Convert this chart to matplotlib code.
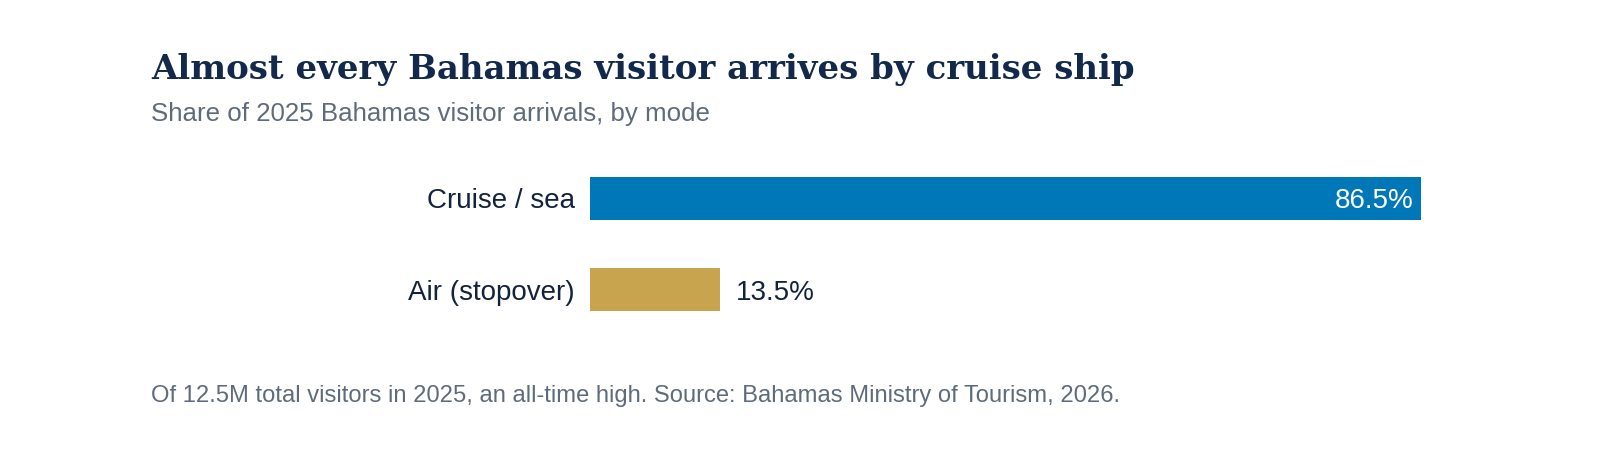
import matplotlib.pyplot as plt

modes = ['Cruise / sea', 'Air (stopover)']
shares = [86.5, 13.5]
bar_colors = ['#0077b6', '#c9a44e']

plt.rcParams['font.family'] = ['Liberation Sans', 'DejaVu Sans']

fig = plt.figure(figsize=(16, 4.54), dpi=100)
# axes placed so the bars start at x=590px and 86.5% ends near x=1421px
ax = fig.add_axes([590 / 1600, 1 - 335 / 454, (1421 - 590) / 1600, (335 - 153) / 454])

y = [0, 1]
ax.barh(y, shares, height=0.47, color=bar_colors)
ax.set_xlim(0, 86.5)
ax.set_ylim(1.5, -0.5)
ax.set_yticks(y)
ax.set_yticklabels(modes, fontsize=20, color='#14233c')
ax.tick_params(axis='y', length=0, pad=11)
ax.set_xticks([])
for s in ax.spines.values():
    s.set_visible(False)

# value labels
for i, v in enumerate(shares):
    if v > 50:
        ax.text(v - 0.8, i, f'{v}%', ha='right', va='center_baseline', fontsize=20, color='white')
    else:
        ax.text(v + 1.7, i, f'{v}%', ha='left', va='center_baseline', fontsize=20, color='#14233c')

fig.text(151 / 1600, 1 - 79 / 454, 'Almost every Bahamas visitor arrives by cruise ship',
         fontsize=24.5, fontweight='bold', family=['DejaVu Serif'], color='#13294b', va='baseline')
fig.text(151 / 1600, 1 - 121 / 454, 'Share of 2025 Bahamas visitor arrivals, by mode',
         fontsize=18.6, color='#5f6b7a', va='baseline')
fig.text(151 / 1600, 1 - 402 / 454,
         'Of 12.5M total visitors in 2025, an all-time high. Source: Bahamas Ministry of Tourism, 2026.',
         fontsize=17.1, color='#5f6b7a', va='baseline')

fig.savefig('out.png', dpi=100)
